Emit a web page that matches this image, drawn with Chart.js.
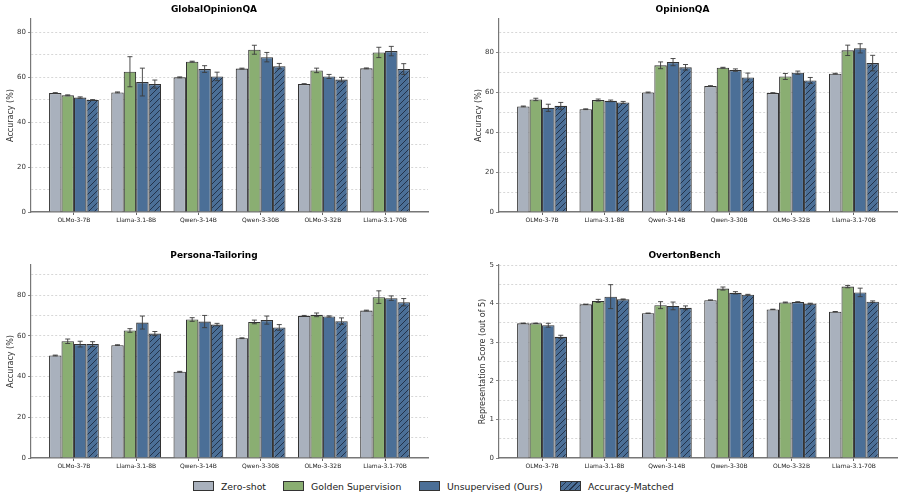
<!DOCTYPE html>
<html><head><meta charset="utf-8">
<script src="https://cdn.jsdelivr.net/npm/chart.js@4.4.1/dist/chart.umd.min.js"></script>
<style>
body{margin:0;background:#fff;width:903px;height:498px;overflow:hidden;position:relative;font-family:"DejaVu Sans",sans-serif;}
canvas{position:absolute;}
.li{position:absolute;top:479px;height:14px;display:flex;align-items:center;font-size:9.3px;color:#222;white-space:nowrap;}
.sw{width:19px;height:8px;border:1px solid #333;margin-right:7px;}
</style></head><body>
<canvas id="c1" width="450" height="232" style="left:0;top:0"></canvas>
<canvas id="c2" width="453" height="232" style="left:450px;top:0"></canvas>
<canvas id="c3" width="450" height="232" style="left:0;top:246px"></canvas>
<canvas id="c4" width="453" height="232" style="left:450px;top:246px"></canvas>
<div class="li" style="left:193px"><div class="sw" style="background:#a9b1bd"></div>Zero-shot</div>
<div class="li" style="left:283px"><div class="sw" style="background:#8aae72"></div>Golden Supervision</div>
<div class="li" style="left:419px"><div class="sw" style="background:#4b6f97"></div>Unsupervised (Ours)</div>
<div class="li" style="left:560px"><div class="sw" style="background:repeating-linear-gradient(-45deg,#4b6f97 0 3px,#22324a 3px 4px)"></div>Accuracy-Matched</div>
<script>
const categories = ['OLMo-3-7B','Llama-3.1-8B','Qwen-3-14B','Qwen-3-30B','OLMo-3-32B','Llama-3.1-70B'];
const seriesNames = ['Zero-shot','Golden Supervision','Unsupervised (Ours)','Accuracy-Matched'];

// GlobalOpinionQA
const gqaZero    = [53.0, 53.3, 60.0, 63.9, 57.0, 64.0];
const gqaGolden  = [52.0, 62.5, 67.0, 72.3, 63.1, 71.1];
const gqaUnsup   = [51.0, 57.9, 63.7, 69.0, 60.4, 71.7];
const gqaMatched = [49.9, 57.0, 60.4, 65.0, 59.0, 63.7];
const gqaZeroErr    = [0.2, 0.2, 0.2, 0.2, 0.2, 0.2];
const gqaGoldenErr  = [0.2, 6.7, 0.2, 2.0, 1.0, 2.3];
const gqaUnsupErr   = [0.3, 6.2, 1.5, 2.1, 0.9, 2.1];
const gqaMatchedErr = [0.2, 1.8, 1.9, 1.2, 1.0, 2.4];

// OpinionQA
const oqaZero    = [52.9, 51.5, 59.9, 63.1, 59.6, 69.3];
const oqaGolden  = [56.4, 56.1, 73.5, 72.3, 67.9, 81.0];
const oqaUnsup   = [52.2, 55.7, 75.1, 71.1, 69.8, 82.0];
const oqaMatched = [53.2, 54.9, 72.5, 67.4, 65.9, 74.6];
const oqaZeroErr    = [0.2, 0.2, 0.2, 0.2, 0.2, 0.2];
const oqaGoldenErr  = [0.6, 0.5, 1.7, 0.2, 1.5, 2.6];
const oqaUnsupErr   = [1.8, 0.4, 1.8, 0.6, 0.8, 2.3];
const oqaMatchedErr = [1.7, 0.5, 1.4, 2.2, 1.5, 3.9];

// Persona-Tailoring
const ptZero    = [50.4, 55.5, 42.4, 58.9, 69.9, 72.5];
const ptGolden  = [57.4, 62.7, 68.1, 66.9, 70.4, 79.1];
const ptUnsup   = [56.0, 66.6, 67.1, 67.8, 69.6, 78.6];
const ptMatched = [56.0, 61.2, 65.6, 64.2, 67.3, 76.6];
const ptZeroErr    = [0.2, 0.2, 0.2, 0.2, 0.2, 0.2];
const ptGoldenErr  = [1.1, 0.9, 0.9, 0.9, 0.9, 3.1];
const ptUnsupErr   = [1.4, 3.2, 3.0, 2.0, 0.3, 1.1];
const ptMatchedErr = [1.2, 1.0, 0.6, 1.4, 1.6, 1.8];

// OvertonBench
const obZero    = [3.49, 3.98, 3.75, 4.09, 3.85, 3.79];
const obGolden  = [3.49, 4.07, 3.96, 4.39, 4.03, 4.44];
const obUnsup   = [3.44, 4.18, 3.94, 4.28, 4.04, 4.29];
const obMatched = [3.14, 4.11, 3.89, 4.23, 4.00, 4.05];
const obZeroErr    = [0.005, 0.005, 0.005, 0.005, 0.005, 0.005];
const obGoldenErr  = [0.005, 0.04, 0.09, 0.04, 0.01, 0.03];
const obUnsupErr   = [0.05, 0.31, 0.10, 0.03, 0.01, 0.11];
const obMatchedErr = [0.04, 0.01, 0.05, 0.01, 0.01, 0.02];

Chart.defaults.font.family = '"DejaVu Sans", sans-serif';
Chart.defaults.color = '#333';

function hatchPattern(){
  const s = 6, c = document.createElement('canvas');
  c.width = s; c.height = s;
  const g = c.getContext('2d');
  g.fillStyle = '#4b6f97'; g.fillRect(0,0,s,s);
  g.strokeStyle = '#1f2d42'; g.lineWidth = 0.9;
  g.beginPath();
  g.moveTo(0,s); g.lineTo(s,0);
  g.moveTo(-1,1); g.lineTo(1,-1);
  g.moveTo(s-1,s+1); g.lineTo(s+1,s-1);
  g.stroke();
  return g.createPattern(c,'repeat');
}
const fills = ['#a9b1bd','#8aae72','#4b6f97', null];

const errorBars = {
  id:'errorBars',
  afterDatasetsDraw(chart){
    const ctx = chart.ctx, ys = chart.scales.y;
    chart.data.datasets.forEach((ds, di) => {
      const meta = chart.getDatasetMeta(di);
      meta.data.forEach((bar, i) => {
        const v = ds.data[i].y, e = ds.errors[i];
        const t = ys.getPixelForValue(v + e), b = ys.getPixelForValue(v - e);
        ctx.save();
        ctx.strokeStyle = 'rgba(60,60,60,0.9)'; ctx.lineWidth = 1;
        ctx.beginPath();
        ctx.moveTo(bar.x, t); ctx.lineTo(bar.x, b);
        ctx.moveTo(bar.x - 2.5, t); ctx.lineTo(bar.x + 2.5, t);
        ctx.moveTo(bar.x - 2.5, b); ctx.lineTo(bar.x + 2.5, b);
        ctx.stroke();
        ctx.restore();
      });
    });
  }
};

function makeChart(id, title, ymax, step, labelEvery, ytitle, padLeft, yWidth, padRight, series, errs){
  const hatch = hatchPattern();
  const datasets = series.map((arr, k) => ({
    label: seriesNames[k],
    data: arr.map((v, i) => ({x: i, y: v})),
    errors: errs[k],
    backgroundColor: k === 3 ? hatch : fills[k],
    borderColor: '#333',
    borderWidth: 1.1,
    categoryPercentage: 0.8,
    barPercentage: 1.0
  }));
  const isLabel = v => Math.abs(v/labelEvery - Math.round(v/labelEvery)) < 1e-6;
  return new Chart(document.getElementById(id), {
    type: 'bar',
    data: {datasets},
    plugins: [errorBars],
    options: {
      responsive: false, animation: false,
      layout: {padding: {left: padLeft, right: padRight, top: 0, bottom: 0}},
      plugins: {
        legend: {display: false}, tooltip: {enabled: false},
        title: {display: true, text: title, color: '#000', font: {size: 9, weight: 'bold'}, padding: {top: 4.6, bottom: 3.6}}
      },
      scales: {
        x: {
          type: 'linear', min: -0.69, max: 5.69, offset: false,
          afterBuildTicks: s => { s.ticks = categories.map((_, i) => ({value: i})); },
          afterFit: s => { s.height = 20; },
          ticks: {callback: v => categories[v], font: {size: 6}, color: '#222', padding: 2, maxRotation: 0, autoSkip: false},
          grid: {display: true, offset: false, drawOnChartArea: false, tickLength: 3, tickColor: '#666'},
          border: {color: '#777', width: 1.5}
        },
        y: {
          min: 0, max: ymax,
          afterFit: s => { s.width = yWidth; },
          ticks: {stepSize: step, includeBounds: false, callback: v => isLabel(v) ? String(v) : '', font: {size: 7}, color: '#333', padding: 2},
          grid: {
            color: c => (c.tick && c.tick.value === 0) ? 'rgba(0,0,0,0)' : '#cdcdcd',
            lineWidth: 0.8, tickLength: 3,
            tickColor: c => (c.tick && isLabel(c.tick.value)) ? '#666' : 'rgba(0,0,0,0)'
          },
          border: {color: '#777', width: 1.2, dash: [2, 2]},
          title: {display: true, text: ytitle, font: {size: 8}, color: '#333', padding: {top: 6, bottom: 0}}
        }
      }
    }
  });
}

makeChart('c1', 'GlobalOpinionQA', 86, 10, 20, 'Accuracy (%)', 0, 31, 22,
  [gqaZero, gqaGolden, gqaUnsup, gqaMatched], [gqaZeroErr, gqaGoldenErr, gqaUnsupErr, gqaMatchedErr]);
makeChart('c2', 'OpinionQA', 96.7, 10, 20, 'Accuracy (%)', 18, 31, 6,
  [oqaZero, oqaGolden, oqaUnsup, oqaMatched], [oqaZeroErr, oqaGoldenErr, oqaUnsupErr, oqaMatchedErr]);
makeChart('c3', 'Persona-Tailoring', 94.9, 10, 20, 'Accuracy (%)', 0, 31, 22,
  [ptZero, ptGolden, ptUnsup, ptMatched], [ptZeroErr, ptGoldenErr, ptUnsupErr, ptMatchedErr]);
makeChart('c4', 'OvertonBench', 5.0, 0.5, 1, 'Representation Score (out of 5)', 22, 27, 6,
  [obZero, obGolden, obUnsup, obMatched], [obZeroErr, obGoldenErr, obUnsupErr, obMatchedErr]);
</script>
</body></html>
